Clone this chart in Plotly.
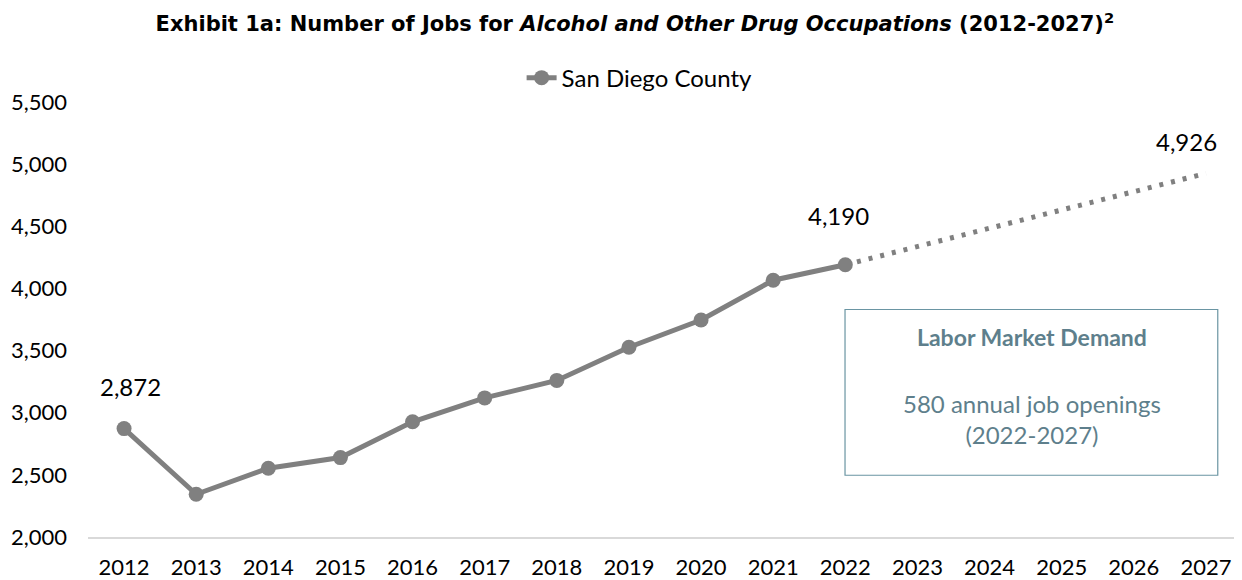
"""Exhibit 1a: AOD occupation jobs, San Diego County, 2012-2027."""
import plotly.graph_objects as go

YEARS = [str(y) for y in range(2012, 2028)]
HIST_YEARS = YEARS[:11]
HIST_JOBS = [2872, 2344, 2553, 2639, 2927, 3119, 3260, 3527, 3746, 4066, 4190]
PROJ_YEARS = ["2022", "2027"]
PROJ_JOBS = [4190, 4926]
LABEL_YEARS = ["2012", "2022", "2027"]
LABEL_JOBS = [2872, 4190, 4926]

FONT = "Lato, 'Open Sans', sans-serif"
GREY = "#808080"
TEAL = "#5e7f8c"

fig = go.Figure()
fig.add_trace(go.Scatter(
    x=HIST_YEARS, y=HIST_JOBS, mode="lines+markers", name="San Diego County",
    line=dict(color=GREY, width=5), marker=dict(color=GREY, size=15),
    hoverinfo="x+y",
))
fig.add_trace(go.Scatter(
    x=PROJ_YEARS, y=PROJ_JOBS, mode="lines", showlegend=False,
    line=dict(color=GREY, width=5, dash="4px,8px"), hoverinfo="skip",
))

# data labels above the key points (category index so the axis places them)
offsets = [(6, 42), (-7, 49), (-19, 32)]
for yr, v, (dx, dy) in zip(LABEL_YEARS, LABEL_JOBS, offsets):
    fig.add_annotation(
        x=YEARS.index(yr), y=v, text=f"{v:,}", showarrow=False,
        xshift=dx, yshift=dy, xanchor="center", yanchor="middle",
        font=dict(size=24, color="black", family=FONT),
    )

# Labor Market Demand call-out box
fig.add_shape(
    type="rect", xref="paper", yref="paper",
    x0=0.656, x1=0.979, y0=0.142, y1=0.523,
    line=dict(color="#6a95a3", width=1.2), fillcolor="white", layer="above",
)
fig.add_annotation(
    xref="paper", yref="paper", x=0.8176, y=0.459, showarrow=False,
    xanchor="center", yanchor="middle",
    text="<b>Labor Market Demand</b>",
    font=dict(size=23, color=TEAL, family=FONT),
)
fig.add_annotation(
    xref="paper", yref="paper", x=0.8176, y=0.272, showarrow=False,
    xanchor="center", yanchor="middle",
    text="580 annual job openings<br>(2022-2027)",
    font=dict(size=24, color=TEAL, family=FONT),
)

fig.update_xaxes(
    type="category", categoryorder="array", categoryarray=YEARS,
    range=[-0.5, 15.5], showgrid=False, showline=True,
    linecolor="#d9d9d9", linewidth=2, ticks="", ticklabelstandoff=10,
    tickfont=dict(size=22, color="black", family=FONT),
)
fig.update_yaxes(
    range=[2000, 5500], dtick=500, tickformat=",", showgrid=False,
    zeroline=False, showline=False, ticklabelstandoff=20,
    tickfont=dict(size=22, color="black", family=FONT),
)

# the page body adds an 8px margin, so the figure is 8px smaller each way
fig.update_layout(
    width=1234, height=572,
    paper_bgcolor="white", plot_bgcolor="white",
    font=dict(family=FONT, color="black"),
    title=dict(
        text="<b>Exhibit 1a: Number of Jobs for <i>Alcohol and Other Drug "
             "Occupations</i> (2012-2027)<sup>2</sup></b>",
        x=0.508, xanchor="center", y=0.972, yanchor="middle",
        font=dict(size=21, color="black", family="'DejaVu Sans', sans-serif"),
    ),
    legend=dict(
        orientation="h", x=0.478, xanchor="center", y=1.055, yanchor="middle",
        font=dict(size=24, color="black", family=FONT),
    ),
    margin=dict(l=80, r=0, t=94, b=40),
    showlegend=True,
)

fig.write_html("out.html")
